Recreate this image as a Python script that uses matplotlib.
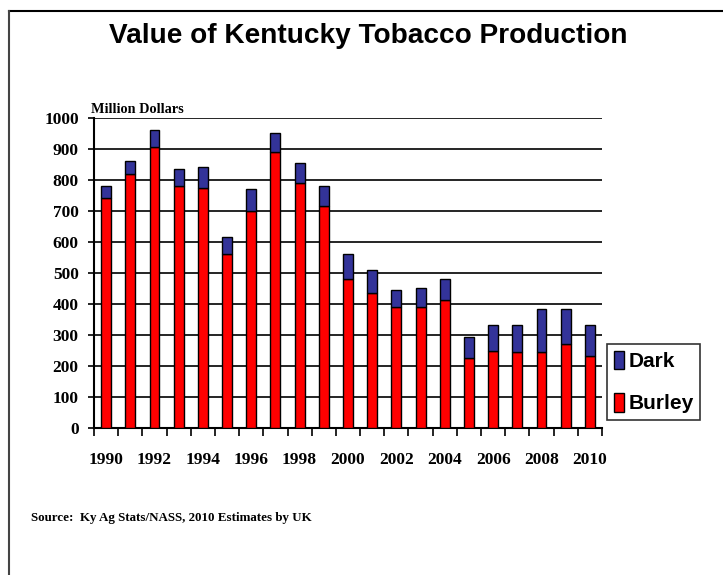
import matplotlib
matplotlib.use("Agg")
import matplotlib.pyplot as plt
from matplotlib.lines import Line2D
from matplotlib.patches import Patch
import numpy as np

years = list(range(1990, 2011))
total = [781, 860, 960, 836, 842, 617, 770, 950, 855, 781, 560,
         510, 446, 453, 481, 294, 333, 333, 385, 385, 333]
burley = [741, 820, 905, 780, 775, 560, 701, 889, 791, 717, 480,
          435, 390, 390, 413, 227, 248, 244, 244, 272, 232]
dark = [t - b for t, b in zip(total, burley)]
year_labels = [str(y) if y % 2 == 0 else "" for y in years]
yticks = list(range(0, 1001, 100))

title = "Value of Kentucky Tobacco Production"
ylabel = "Million Dollars"
source = "Source:  Ky Ag Stats/NASS, 2010 Estimates by UK"

RED = "#FF0000"
BLUE = "#333399"
serif = "Liberation Serif"
sans = "Liberation Sans"

fig = plt.figure(figsize=(7.23, 5.75), dpi=100)
ax = fig.add_axes([94 / 723, 1 - 428 / 575, (602 - 94) / 723, (428 - 118) / 575])

x = np.arange(len(years))
w = 0.41
ax.bar(x, burley, width=w, color=RED, edgecolor="black", linewidth=1.0, zorder=3)
ax.bar(x, dark, width=w, bottom=burley, color=BLUE, edgecolor="black", linewidth=1.0, zorder=3)

ax.set_xlim(-0.5, len(years) - 0.5)
ax.set_ylim(0, 1000)
ax.set_yticks(yticks)
ax.set_yticklabels([str(v) for v in yticks], fontfamily=serif, fontweight="bold", fontsize=12.5)
ax.yaxis.grid(True, color="black", linewidth=1.2, zorder=0)
ax.set_axisbelow(True)

ax.set_xticks(x)
ax.set_xticklabels(year_labels, fontfamily=serif, fontweight="bold", fontsize=12.5)
ax.set_xticks(np.arange(-0.5, len(years)), minor=True)
ax.tick_params(axis="x", which="major", length=0, pad=17)
ax.tick_params(axis="x", which="minor", length=6, width=1.2, color="black", direction="out")
ax.tick_params(axis="y", which="major", length=4, width=1.2, color="black", pad=7)

for s in ["top", "right"]:
    ax.spines[s].set_visible(False)
for s in ["left", "bottom"]:
    ax.spines[s].set_color("black")
    ax.spines[s].set_linewidth(1.5)

fig.text(368 / 723, 1 - 36 / 575, title, ha="center", va="center",
         fontfamily=sans, fontweight="bold", fontsize=20.2)
fig.text(91 / 723, 1 - 113 / 575, ylabel, ha="left", va="baseline",
         fontfamily=serif, fontweight="bold", fontsize=10.3)
fig.text(31 / 723, 1 - 518 / 575, source, ha="left", va="center",
         fontfamily=serif, fontweight="bold", fontsize=9.4)

handles = [Patch(facecolor=BLUE, edgecolor="black", linewidth=1.0),
           Patch(facecolor=RED, edgecolor="black", linewidth=1.0)]
leg = fig.legend(handles, ["Dark", "Burley"], loc="center",
                 bbox_to_anchor=(653.5 / 723, 1 - 382 / 575),
                 prop={"family": sans, "weight": "bold", "size": 15},
                 frameon=True, fancybox=False, shadow=False,
                 handlelength=0.5, handleheight=1.0, handletextpad=0.2,
                 labelspacing=1.05, borderpad=0.3, borderaxespad=0)
leg.get_frame().set_edgecolor("black")
leg.get_frame().set_linewidth(1.2)

fig.add_artist(Line2D([9 / 723, 1], [1 - 10.5 / 575, 1 - 10.5 / 575],
                      color="black", linewidth=1.5, transform=fig.transFigure))
fig.add_artist(Line2D([9 / 723, 9 / 723], [0, 1 - 10.5 / 575],
                      color="#444444", linewidth=1.5, transform=fig.transFigure))

fig.savefig("out.png", dpi=100)
